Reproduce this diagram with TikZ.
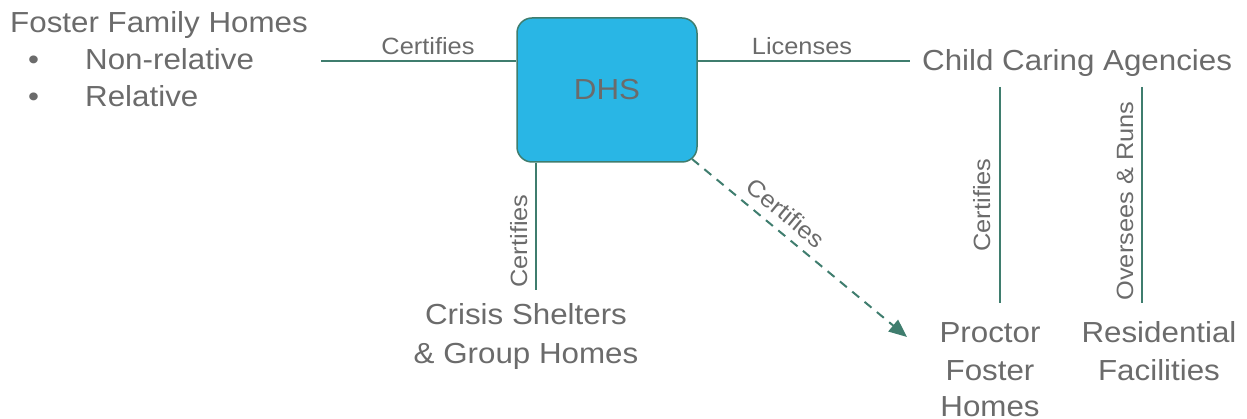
\documentclass[tikz,border=0pt]{standalone}
\usepackage{fontspec}
\setmainfont{Liberation Sans}[FakeStretch=1.08]
\usetikzlibrary{arrows.meta}
\definecolor{ln}{HTML}{3F7D6E}
\definecolor{tx}{HTML}{6B6B6B}
\definecolor{dhsfill}{HTML}{29B6E5}
\begin{document}
\begin{tikzpicture}[x=1pt,y=-1pt,
  big/.style={font=\fontsize{29}{36}\selectfont, text=tx, inner sep=0pt},
  lab/.style={font=\fontsize{23.5}{28}\selectfont, text=tx, inner sep=0pt},
  conn/.style={draw=ln, line width=2pt}]
\useasboundingbox (0,0) rectangle (1247,419);

% left text
\node[big, anchor=base west] (ffh) at (10,33) {Foster Family Homes};
\node[big, anchor=base west] (b1) at (28,70) {•};
\node[big, anchor=base west] (nr) at (85,70) {Non-relative};
\node[big, anchor=base west] (b2) at (28,107) {•};
\node[big, anchor=base west] (rel) at (85,107) {Relative};

% DHS box
\node[big, draw=ln, fill=dhsfill, line width=1.5pt, rounded corners=15pt,
      minimum width=180pt, minimum height=144pt] (dhs) at (607,90) {DHS};

% Child caring agencies
\node[big, anchor=base west] (cca) at (922,71) {Child Caring Agencies};

% Crisis shelters
\node[big, anchor=base] (cs1) at (526,325) {Crisis Shelters};
\node[big, anchor=base] (cs2) at (526,363) {\& Group Homes};

% Proctor & Residential
\node[big, anchor=base] (pf1) at (990,343) {Proctor};
\node[big, anchor=base] (pf2) at (990,380) {Foster};
\node[big, anchor=base] (pf3) at (990,416) {Homes};
\node[big, anchor=base] (rf1) at (1159,343) {Residential};
\node[big, anchor=base] (rf2) at (1159,380) {Facilities};

% connector end points
\coordinate (fl) at (321,61);
\coordinate (rr) at (910,61);
\coordinate (cb) at (536,290);
\coordinate (ds) at (692,159);
\coordinate (de) at (907,337);
\coordinate (p1t) at (1000,87);
\coordinate (p1b) at (1000,303);
\coordinate (p2t) at (1142,87);
\coordinate (p2b) at (1142,303);

% connectors
\draw[conn] (fl) -- (fl -| dhs.west);
\draw[conn] (rr -| dhs.east) -- (rr);
\draw[conn] (cb |- dhs.south) -- (cb);
\draw[conn, dash pattern=on 9pt off 7pt, -{Triangle[length=18pt,width=15pt]}] (ds) -- (de);
\draw[conn] (p1t) -- (p1b);
\draw[conn] (p2t) -- (p2b);

% labels
\node[lab, anchor=base] (l1) at (428,55) {Certifies};
\node[lab, anchor=base] (l2) at (802,55) {Licenses};
\node[lab, anchor=base, rotate=90] (l3) at (527,241) {Certifies};
\node[lab, rotate=-39.6] (l4) at (786,213) {Certifies};
\node[lab, anchor=base, rotate=90] (l5) at (990,205) {Certifies};
\node[lab, anchor=base, rotate=90] (l6) at (1133,201) {Oversees \& Runs};
\end{tikzpicture}
\end{document}
